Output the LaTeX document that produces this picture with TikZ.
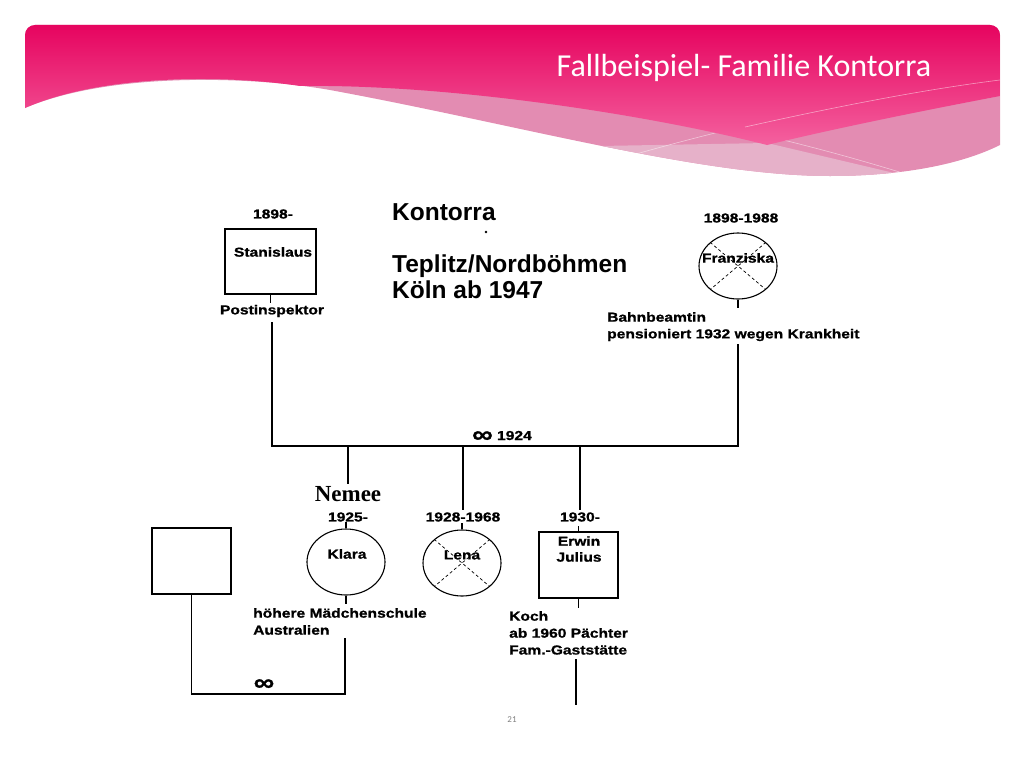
\documentclass[tikz,border=0pt]{standalone}
\usepackage{fontspec}
\usetikzlibrary{shapes.geometric}
\setmainfont{Liberation Sans}
\newfontfamily\scanfont[FakeStretch=1.2,FakeBold=1]{Liberation Sans Bold}
\newfontfamily\bigfont{Liberation Sans Bold}
\newfontfamily\serifbold{Liberation Serif Bold}
\newfontfamily\titlefont{Carlito}
\definecolor{pinkTop}{HTML}{E6045F}
\definecolor{pinkBot}{HTML}{F4619F}
\definecolor{pinkMid}{HTML}{E38CB2}
\definecolor{pinkLight}{HTML}{E6B1C9}
\definecolor{numgray}{HTML}{7F7F7F}
\newcommand{\infsym}{{\fontsize{24}{24}\selectfont\raisebox{-2.5pt}{∞}}}
\tikzset{
  lbl/.style={font=\scanfont\fontsize{13}{15}\selectfont, inner sep=0pt},
  lblL/.style={lbl, anchor=west},
  bigtxt/.style={font=\bigfont\fontsize{24.5}{28}\selectfont, anchor=base west, inner sep=0pt},
  ln/.style={line width=1.5pt, black},
  male/.style={draw, line width=1.1pt, inner sep=0pt},
  female/.style={draw, ellipse, line width=1.1pt, inner sep=0pt},
  crossln/.style={line width=0.7pt, dash pattern=on 3pt off 2.5pt},
  thinwhite/.style={white, opacity=0.5, line width=0.6pt}
}
\begin{document}
\begin{tikzpicture}[x=1pt,y=-1pt]
\useasboundingbox (0,0) rectangle (1024,768);
% ---------- header ----------
\def\outerpath{(25,108) -- (25,35) arc[start angle=180,end angle=270,radius=10]
  -- (990,25) arc[start angle=270,end angle=360,radius=10] -- (1000,145)
  .. controls (960,165) and (900,176) .. (830,176)
  .. controls (700,176) and (520,125) .. (330,90)
  .. controls (250,76) and (110,72) .. (25,108) -- cycle}
\fill[pinkMid] \outerpath;
\begin{scope}
  \clip \outerpath;
  \fill[pinkLight] (600,146) -- (767,143) -- (945,185) -- (945,200) -- (600,200) -- cycle;
  \draw[thinwhite] (470,85) .. controls (650,105) and (800,140) .. (925,180);
  \draw[thinwhite] (615,160) .. controls (760,118) and (900,90) .. (1000,80);
\end{scope}
\shade[top color=pinkTop, bottom color=pinkBot] (25,108) -- (25,35)
  arc[start angle=180,end angle=270,radius=10]
  -- (990,25) arc[start angle=270,end angle=360,radius=10] -- (1000,96)
  .. controls (900,115) and (820,132) .. (767,145)
  .. controls (650,115) and (450,84) .. (300,86)
  .. controls (220,74) and (100,75) .. (25,108) -- cycle;
\draw[thinwhite] (745,127) .. controls (830,108) and (920,90) .. (1000,80);
\node[font=\titlefont\fontsize{32}{36}\selectfont, text=white, inner sep=0pt] (title) at (744,68) {Fallbeispiel- Familie Kontorra};
\node[font=\titlefont\fontsize{9}{11}\selectfont, text=numgray, inner sep=0pt] (pnum) at (512,720) {21};
% ---------- heading text ----------
\node[bigtxt] (kont) at (392,220) {Kontorra};
\fill (486,232) circle[radius=1.3];
\node[bigtxt] (tepl) at (392,272) {Teplitz/Nordböhmen};
\node[bigtxt] (koeln) at (392,298) {Köln ab 1947};
% ---------- Stanislaus ----------
\node[lbl] (stanY) at (273,214) {1898-};
\node[male, minimum width=91, minimum height=65] (stan) at (270.5,261.5) {};
\node[lbl] (stanN) at (273,252) {Stanislaus};
\node[lbl] (post) at (272,311) {Postinspektor};
% ---------- Franziska ----------
\node[lbl] (franY) at (741,218) {1898-1988};
\node[female, minimum width=78, minimum height=66] (fran) at (738,266) {};
\draw[crossln] (fran.north west) -- (fran.south east);
\draw[crossln] (fran.north east) -- (fran.south west);
\node[lbl] (franN) at (738,258) {Franziska};
\node[lblL] (bahn) at (607,317) {Bahnbeamtin};
\node[lblL] (pens) at (607,335) {pensioniert 1932 wegen Krankheit};
% ---------- marriage line ----------
\coordinate (mL) at (272,446);
\coordinate (mR) at (738,446);
\coordinate (fB) at (738,344);
\draw[ln] (stan.south) -- ++(0,8);
\draw[ln] (fran.south) -- ++(0,8);
\draw[ln] ([yshift=-5pt]post.south) -- (mL) -- (mR) -- (fB);
\node[lbl, anchor=base] (marr) at (502,440) {\infsym\ 1924};
% ---------- children ----------
\node[font=\serifbold\fontsize{23}{25}\selectfont, inner sep=0pt] (nemee) at (348,494) {Nemee};
\node[lbl] (klaraY) at (348,517) {1925-};
\node[lbl] (lenaY) at (463,517) {1928-1968};
\node[lbl] (erwY) at (580,517) {1930-};
\coordinate (c1) at (348,446);
\coordinate (c2) at (463,446);
\coordinate (c3) at (580,446);
\draw[ln] (c1) -- ([yshift=2pt]nemee.north);
\draw[ln] (c2) -- ([yshift=2pt]lenaY.north);
\draw[ln] (c3) -- ([yshift=2pt]erwY.north);
% Klara
\node[female, minimum width=78, minimum height=66] (klara) at (346,562) {};
\node[lbl] (klaraN) at (347,554) {Klara};
\draw[ln] (klara.north) -- ++(0,-6);
\draw[ln] (klara.south) -- ++(0,8);
\node[lblL] (hoeh) at (253,613) {höhere Mädchenschule};
\node[lblL] (austr) at (253,630) {Australien};
% Lena
\node[female, minimum width=78, minimum height=66] (lena) at (462,563) {};
\draw[crossln] (lena.north west) -- (lena.south east);
\draw[crossln] (lena.north east) -- (lena.south west);
\node[lbl] (lenaN) at (462,555) {Lena};
\draw[ln] (lena.north) -- ++(0,-6);
% Erwin Julius
\node[male, minimum width=79, minimum height=66] (erw) at (578.5,565) {};
\node[lbl] (erwN1) at (579,541) {Erwin};
\node[lbl] (erwN2) at (579,557) {Julius};
\draw[ln] (erw.north) -- ++(0,-5);
\draw[ln] (erw.south) -- ++(0,9);
\node[lblL] (koch) at (509,616) {Koch};
\node[lblL] (paecht) at (509,633) {ab 1960 Pächter};
\node[lblL] (gast) at (509,650) {Fam.-Gaststätte};
\coordinate (eB) at (576,659);
\coordinate (eE) at (576,705);
\draw[ln] (eB) -- (eE);
% Klara's spouse
\node[male, minimum width=79, minimum height=66] (spouse) at (191.5,561) {};
\coordinate (kB) at (345,638);
\coordinate (kC) at (345,694);
\draw[ln] (kB) -- (kC) -| (spouse.south);
\node[lbl, anchor=base] (marr2) at (264,688) {\infsym};
\end{tikzpicture}
\end{document}
